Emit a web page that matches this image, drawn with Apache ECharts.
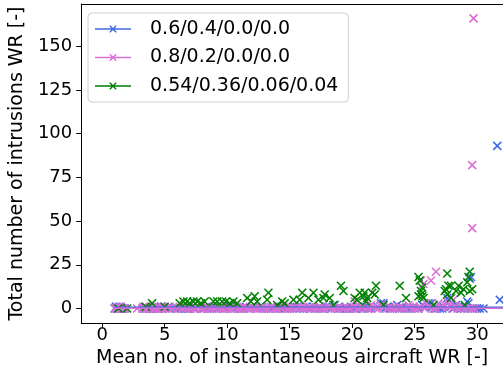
<!DOCTYPE html>
<html>
<head>
<meta charset="utf-8">
<script src="https://cdn.jsdelivr.net/npm/echarts@6/dist/echarts.min.js"></script>
<style>
  html, body { margin: 0; padding: 0; background: #fff; }
  #chart { width: 503px; height: 376px; }
</style>
</head>
<body>
<div id="chart"></div>
<script>
// Mix labels
const seriesNames = ['0.6/0.4/0.0/0.0', '0.8/0.2/0.0/0.0', '0.54/0.36/0.06/0.04'];

// [mean no. of instantaneous aircraft, total intrusions]
const mix1 = [
  [1.0,0],[1.1,1],[1.2,0],[1.3,0],[1.4,1],[1.5,0],[1.6,0],[1.7,0],[1.8,0],
  [3.3,0],[3.4,1],[3.5,0],[3.8,0],[3.9,0],[4.1,0],[4.2,1],[4.4,0],[4.5,0],
  [4.7,1],[4.8,0],[5.1,0],[5.3,1],[5.4,0],
  [5.9,0],[6.1,0],[6.3,0],[6.5,1],[6.7,0],[6.9,0],[7.0,0],[7.2,1],[7.4,0],
  [7.7,1],[7.9,0],[8.1,0],[8.3,1],[8.4,0],[8.6,0],[8.8,0],[9.0,1],
  [9.2,0],[9.5,1],[9.7,0],[9.9,0],[10.2,1],[10.4,1],[10.6,0],[10.9,0],
  [11.1,0],[11.3,0],[11.5,1],[11.7,0],[11.9,0],
  [12.0,1],[12.4,0],[12.6,1],[12.8,0],[13.1,0],[13.3,0],[13.5,0],[13.7,1],
  [13.9,0],[14.2,0],[14.4,1],[14.6,0],[14.8,0],
  [15.0,0],[15.2,0],[15.4,1],[15.6,1],[15.8,0],[16.1,0],[16.3,1],[16.6,0],
  [16.9,1],[17.0,0],[17.2,0],[17.4,0],[17.7,0],
  [17.9,1],[18.1,1],[18.3,0],[18.6,2],[18.9,1],[19.0,0],[19.3,0],[19.5,0],
  [19.7,0],[19.9,1],[20.1,0],[20.3,0],[20.5,1],
  [20.8,0],[21.0,1],[21.3,0],[21.5,0],[21.7,1],[22.0,1],[22.3,3],[22.5,3],
  [22.6,0],[22.8,1],[23.0,0],[23.2,0],
  [23.4,1],[23.6,2],[23.8,0],[24.0,1],[24.2,0],[24.4,0],[24.6,0],[24.9,1],
  [25.0,0],[25.3,0],[25.6,2],[25.8,1],[26.1,3],
  [26.2,2],[26.3,3],[26.4,1],[26.6,0],[26.8,0],[27.0,0],[27.2,0],[27.3,1],
  [27.6,6],[27.7,5],[27.9,1],[28.1,0],[28.3,2],
  [28.5,1],[28.7,0],[28.9,0],[29.0,1],[29.2,4],[29.3,3],[29.4,17],[29.5,18],
  [29.6,0],[29.8,0],[30.0,0],[30.2,0],[30.5,0],
  [31.6,93],[31.8,5]
];
const mix2 = [
  [1.0,0],[1.1,0],[1.2,1],[1.3,0],[1.4,0],[1.5,1],[1.6,0],[1.7,0],[1.8,0],
  [2.8,0],
  [3.2,0],[3.3,1],[3.4,0],[3.6,0],[3.7,0],[3.9,0],[4.0,1],[4.2,0],[4.3,0],
  [4.4,1],[4.6,0],[4.8,1],[4.9,0],[5.1,0],[5.3,0],[5.4,1],[5.6,0],
  [6.0,0],[6.2,1],[6.4,0],[6.6,0],[6.8,0],[6.9,1],[7.1,0],[7.3,0],[7.5,0],
  [7.7,1],[7.9,0],[8.0,0],[8.2,0],[8.4,1],[8.6,0],[8.8,0],[9.0,0],
  [9.2,1],[9.4,0],[9.6,0],[9.7,0],[9.9,1],[10.1,0],[10.3,0],[10.4,0],
  [10.6,1],[10.8,0],[11.0,0],[11.1,0],[11.3,1],[11.5,0],[11.7,0],[11.9,0],
  [12.0,1],[12.2,0],[12.4,0],[12.6,0],[12.8,1],[13.0,0],[13.1,0],[13.3,0],
  [13.5,1],[13.8,0],[13.9,0],[14.0,0],[14.3,0],[14.5,1],[14.7,1],[14.8,0],
  [15.0,0],[15.2,0],[15.5,0],[15.7,1],[15.9,1],[16.0,0],[16.2,0],[16.4,0],
  [16.6,1],[16.8,0],[17.0,0],[17.2,0],[17.4,1],[17.6,0],[17.8,0],[18.1,0],
  [18.2,1],[18.4,0],[18.6,0],[18.8,0],[19.0,1],[19.2,0],[19.4,0],[19.7,0],
  [19.9,0],[20.1,1],[20.2,4],[20.4,0],[20.6,0],[20.8,1],[21.0,0],[21.2,0],
  [21.5,2],[21.7,1],[21.9,0],[22.1,0],[22.3,2],[22.5,1],[22.8,0],[23.0,1],
  [23.2,0],[23.4,0],[23.6,0],[23.8,1],[24.0,0],[24.2,0],[24.5,2],[24.6,1],
  [24.8,0],[25.0,0],[25.2,0],[25.4,1],[25.5,16],[25.7,14],[25.8,0],
  [25.9,3],[26.2,1],[26.3,16],[26.5,0],[26.7,21],[26.7,0],[26.9,3],
  [27.1,1],[27.4,2],[27.6,4],[27.8,1],[28.0,0],[28.1,5],[28.4,0],[28.6,0],
  [28.8,1],[29.0,0],[29.3,0],[29.6,0],[29.8,0],
  [29.6,46],[29.6,82],[29.7,166]
];
const mix3 = [
  [1.3,0],[2.0,0],[3.5,1],[4.0,3],[5.0,1],[6.2,3],[6.5,4],[6.8,4],[7.0,3],
  [7.3,4],[7.6,4],[7.9,3],[8.2,4],[8.9,4],[9.2,4],[9.6,4],[9.9,4],[10.2,3],
  [10.5,4],[10.8,3],[11.6,6],[11.9,4],[12.2,7],[12.4,4],[13.2,5],[13.3,9],
  [14.0,2],[14.4,4],[14.6,3],[15.3,5],[15.8,5],[16.0,9],[16.5,6],[16.9,9],
  [17.3,5],[17.7,6],[17.8,8],[18.2,6],[18.5,2],[19.1,13],[19.3,10],[20.2,6],
  [20.4,5],[20.6,9],[20.9,7],[21.0,9],[21.1,4],[21.2,6],[21.6,9],[21.8,8],
  [21.9,13],[22.5,2],[23.8,13],[24.3,6],[25.3,18],[25.4,16],[25.5,10],
  [25.5,8],[25.6,12],[25.6,7],[25.7,6],[25.3,7],[26.5,2],[27.4,10],[27.5,11],
  [27.6,8],[27.6,20],[27.7,13],[27.9,13],[27.9,6],[28.3,10],[28.5,13],
  [28.7,9],[28.9,11],[29.0,2],[29.2,15],[29.3,18],[29.4,21],[29.4,10],[29.6,11]
];

// Near-zero trend lines for the two-type mixes
const trend1 = [[1.0,0.7],[33.0,0.7]];
const trend2 = [[1.0,0.2],[33.0,0.2]];

const xTicks = [0, 5, 10, 15, 20, 25, 30];
const yTicks = [0, 25, 50, 75, 100, 125, 150];

const colors = ['#4169E1', '#DA70D6', '#008000'];
const FONT = 'DejaVu Sans';
const crossPath = 'path://M0,0L10,10M10,0L0,10';
const legendIcon = 'path://M0,4.3L36,4.3L36,5.7L0,5.7Z' +
  'M14.6,1.6L15.6,1.6L18,4L20.4,1.6L21.4,1.6L21.4,2.6L19,5L21.4,7.4L21.4,8.4L20.4,8.4L18,6L15.6,8.4L14.6,8.4L14.6,7.4L17,5L14.6,2.6Z';

function scatter(name, data, color) {
  return {
    name: name,
    type: 'scatter',
    data: data,
    symbol: crossPath,
    symbolSize: 8,
    itemStyle: { color: 'rgba(0,0,0,0)', borderColor: color, borderWidth: 1.6, opacity: 1 },
    emphasis: { disabled: true },
    silent: true
  };
}
function trend(data, color) {
  return {
    type: 'line',
    data: data,
    symbol: 'none',
    lineStyle: { color: color, width: 1.5 },
    emphasis: { disabled: true },
    silent: true,
    clip: true
  };
}

const axisLine = { show: true, onZero: false, lineStyle: { color: '#000', width: 1 } };

const chart = echarts.init(document.getElementById('chart'), null, { renderer: 'canvas' });
chart.setOption({
  animation: false,
  backgroundColor: '#fff',
  grid: { left: 78, top: 4, right: 0, bottom: 53 },
  xAxis: [{
    type: 'value',
    min: -1.67, max: 32.06,
    position: 'bottom',
    axisLine: axisLine,
    axisTick: { show: true, length: 5, customValues: xTicks, lineStyle: { color: '#000' } },
    axisLabel: { customValues: xTicks, margin: 3, fontSize: 18, color: '#000', fontFamily: FONT },
    splitLine: { show: false },
    name: 'Mean no. of instantaneous aircraft WR [-]',
    nameLocation: 'middle',
    nameGap: 23,
    nameTextStyle: { fontSize: 19, color: '#000', fontFamily: FONT }
  }, {
    type: 'value',
    min: -1.67, max: 32.06,
    position: 'top',
    axisLine: axisLine,
    axisTick: { show: false },
    axisLabel: { show: false },
    splitLine: { show: false }
  }],
  yAxis: {
    type: 'value',
    min: -8.3, max: 174.2,
    position: 'left',
    axisLine: axisLine,
    axisTick: { show: true, length: 5, customValues: yTicks, lineStyle: { color: '#000' } },
    axisLabel: { customValues: yTicks, margin: 9, fontSize: 18, color: '#000', fontFamily: FONT },
    splitLine: { show: false },
    name: 'Total number of intrusions WR [-]',
    nameLocation: 'middle',
    nameGap: 49,
    nameTextStyle: { fontSize: 19, color: '#000', fontFamily: FONT }
  },
  legend: {
    orient: 'vertical',
    left: 88, top: 13,
    padding: [6, 10, 6, 7],
    itemWidth: 36, itemHeight: 10, itemGap: 8.5,
    borderColor: '#d0d0d0', borderWidth: 1, borderRadius: 4,
    backgroundColor: 'rgba(255,255,255,0.8)',
    textStyle: { fontSize: 19, lineHeight: 20, color: '#000', fontFamily: FONT, padding: [0, 0, 0, 14] },
    selectedMode: false,
    data: seriesNames.map((n, i) => ({
      name: n, icon: legendIcon,
      itemStyle: { color: colors[i], borderWidth: 0 }
    }))
  },
  series: [
    scatter(seriesNames[0], mix1, colors[0]),
    trend(trend1, colors[0]),
    scatter(seriesNames[1], mix2, colors[1]),
    trend(trend2, colors[1]),
    scatter(seriesNames[2], mix3, colors[2])
  ]
});
</script>
</body>
</html>
